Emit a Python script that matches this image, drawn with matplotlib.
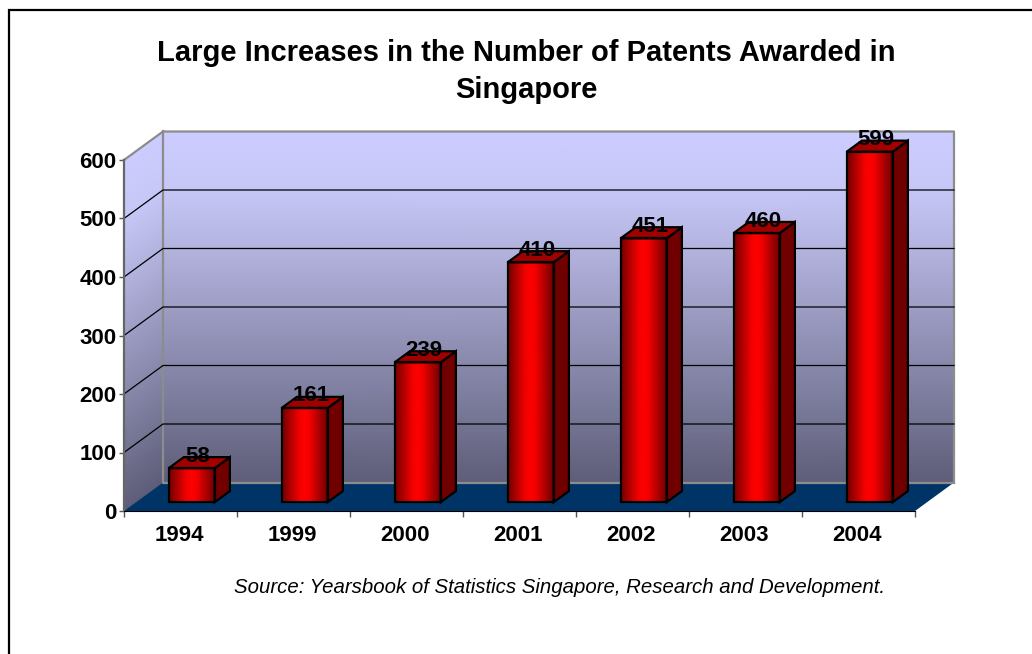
import numpy as np
import matplotlib
matplotlib.use("Agg")
import matplotlib.pyplot as plt
from matplotlib.colors import LinearSegmentedColormap
from matplotlib.patches import Rectangle

years = ["1994", "1999", "2000", "2001", "2002", "2003", "2004"]
patents = [58, 161, 239, 410, 451, 460, 599]
y_ticks = [0, 100, 200, 300, 400, 500, 600]

title = "Large Increases in the Number of Patents Awarded in\nSingapore"
source = "Source: Yearsbook of Statistics Singapore, Research and Development."

W, H = 1032, 654
plt.rcParams["font.family"] = ["Liberation Sans", "DejaVu Sans"]

# front plane of the fake 3D box, in pixels
L, R, B, T = 124, 915, 511, 160
DX = 39 / ((R - L) / 7)     # wall depth, category units
DY = 28.5 / ((B - T) / 600)  # wall depth, value units

wall_cmap = LinearSegmentedColormap.from_list(
    "wall", [(0, "#5e5e79"), (0.82, "#c6c6f6"), (1, "#ccccff")])
bar_cmap = LinearSegmentedColormap.from_list(
    "bar", [(0, "#700000"), (0.38, "#f00000"), (0.5, "#ff0000"), (0.62, "#f00000"), (1, "#700000")])

fig = plt.figure(figsize=(W / 100, H / 100), dpi=100)
ax = fig.add_axes([L / W, 1 - B / H, (R - L) / W, (B - T) / H])
ax.set_xlim(0, 7)
ax.set_ylim(0, 600)
ax.patch.set_visible(False)

# frame around the chart, runs off the right and bottom of the picture
fig.add_artist(Rectangle((8.5 / W, -0.05), 1.1, 1.05 - 9.5 / H, transform=fig.transFigure,
                         fill=False, ec="black", lw=1.6))


def depth(x, y, d):
    return x + DX * d, y + DY * d


def shade(xs, ys, cs, cmap, z):
    m = ax.pcolormesh(xs, ys, cs, cmap=cmap, vmin=0, vmax=1, shading="gouraud", zorder=z)
    m.set_clip_on(False)


# back wall and left wall
v = np.linspace(0, 600, 41)
xb0, yb = depth(0, v, 1)
xb1, _ = depth(7, v, 1)
shade(np.array([np.full_like(v, xb0), np.full_like(v, xb1)]).T, np.array([yb, yb]).T,
      np.array([v / 600, v / 600]).T, wall_cmap, 1)
shade(np.array([np.zeros_like(v), np.full_like(v, xb0)]).T, np.array([v, yb]).T,
      np.array([v / 600, v / 600]).T, wall_cmap, 1)

# floor
fx = [0, 7, 7 + DX, DX]
fy = [0, 0, DY, DY]
ax.fill(fx, fy, color="#003366", lw=0, zorder=2, clip_on=False)

# wall outline and gridlines
ax.plot([0, DX, 7 + DX, 7 + DX], [600, 600 + DY, 600 + DY, DY], color="#8c8c8c", lw=1.6, zorder=3, clip_on=False)
ax.plot([DX, DX, 7 + DX], [600 + DY, DY, DY], color="#8c8c8c", lw=1.6, zorder=3, clip_on=False)
for t in y_ticks[1:-1]:
    ax.plot([0, DX, 7 + DX], [t, t + DY, t + DY], color="black", lw=0.9, zorder=3, clip_on=False)

# bars: front face, side, top
bar_w = 46 / ((R - L) / 7)
bar_d0, bar_d1 = 0.31, 0.70
for i, val in enumerate(patents):
    x0, y0 = depth(i + 0.492 - bar_w / 2, 0, bar_d0)
    x1 = x0 + bar_w
    y1 = y0 + val
    ox = DX * (bar_d1 - bar_d0)
    oy = DY * (bar_d1 - bar_d0)
    u = np.linspace(0, 1, 21)
    shade(np.array([x0 + u * bar_w, x0 + u * bar_w]), np.array([np.full_like(u, y0), np.full_like(u, y1)]),
          np.array([u, u]), bar_cmap, 5)
    ax.fill([x0, x1, x1, x0, x0], [y0, y0, y1, y1, y0], fill=False, ec="black", lw=1.6, zorder=6, clip_on=False)
    ax.fill([x1, x1 + ox, x1 + ox, x1], [y0, y0 + oy, y1 + oy, y1], fc="#700000", ec="black", lw=1.6, zorder=5, clip_on=False)
    ax.fill([x0, x0 + ox, x1 + ox, x1], [y1, y1 + oy, y1 + oy, y1], fc="#a00000", ec="black", lw=1.6, zorder=5, clip_on=False)
    ax.text(x0 + bar_w / 2 + ox / 2 - 0.012, y1 + oy / 2 + 11, str(val), ha="center", va="center",
            fontsize=16, fontweight="bold", color="black", zorder=7, clip_on=False)

# axes
for s in ["top", "right"]:
    ax.spines[s].set_visible(False)
ax.spines["left"].set_color("#666666")
ax.spines["left"].set_linewidth(1.6)
ax.spines["bottom"].set_color("black")
ax.spines["bottom"].set_linewidth(0.8)
ax.spines["left"].set_zorder(4)
ax.spines["bottom"].set_zorder(4)
ax.set_yticks(y_ticks)
ax.set_yticklabels([str(t) for t in y_ticks], fontsize=16, fontweight="bold")
ax.tick_params(axis="y", length=3.5, width=1, color="#555555", pad=2)
ax.set_xticks(np.arange(0, 8))
ax.set_xticklabels([])
ax.set_xticks(np.arange(7) + 0.49, minor=True)
ax.set_xticklabels(years, minor=True, fontsize=16, fontweight="bold")
ax.tick_params(axis="x", which="major", length=4, width=1, color="#555555")
ax.tick_params(axis="x", which="minor", length=0, pad=10)

fig.text(526 / W, 1 - 71.5 / H, title, ha="center", va="center", fontsize=21,
         fontweight="bold", linespacing=1.4)
fig.text(560 / W, 1 - 587.5 / H, source, ha="center", va="center", fontsize=14.7, style="italic")

fig.savefig("out.png", dpi=100)
